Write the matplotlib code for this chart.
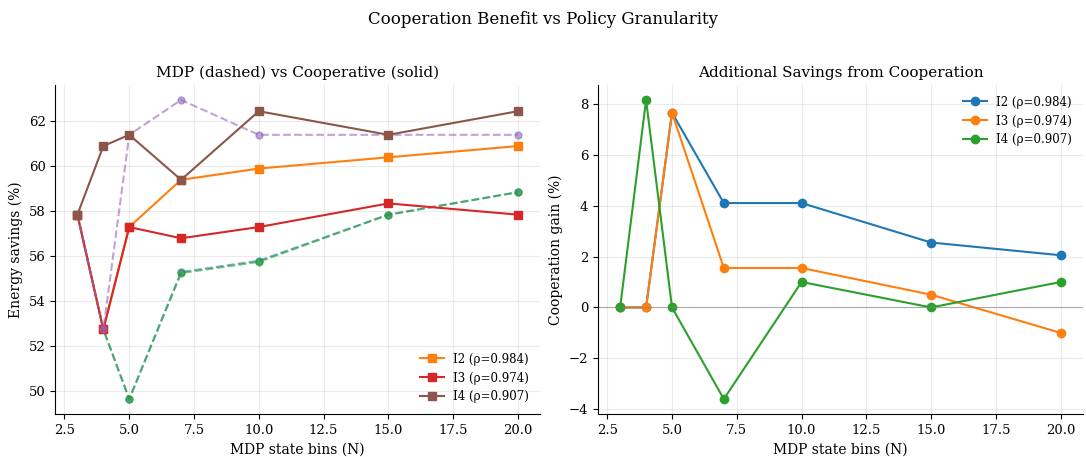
import numpy as np
import matplotlib
matplotlib.use('Agg')
import matplotlib.pyplot as plt

plt.rcParams['font.family'] = 'DejaVu Serif'

# data
bins = np.array([3, 4, 5, 7, 10, 15, 20])
configs = ['I2', 'I3', 'I4']
rhos = [0.984, 0.974, 0.907]

coop = {
    'I2': [57.85, 52.75, 57.3, 59.4, 59.9, 60.4, 60.9],
    'I3': [57.85, 52.75, 57.3, 56.8, 57.3, 58.35, 57.85],
    'I4': [57.85, 60.9, 61.4, 59.4, 62.45, 61.4, 62.45],
}
mdp = {
    'I2': [57.85, 52.75, 49.65, 55.3, 55.8, 57.85, 58.85],
    'I3': [57.85, 52.75, 49.65, 55.25, 55.75, 57.85, 58.85],
    'I4': [57.85, 52.75, 61.4, 62.95, 61.4, 61.4, 61.4],
}
gain = {
    'I2': [0, 0, 7.65, 4.1, 4.1, 2.55, 2.05],
    'I3': [0, 0, 7.65, 1.55, 1.55, 0.5, -1.0],
    'I4': [0, 8.15, 0, -3.6, 1.0, 0, 1.0],
}

fig, (ax1, ax2) = plt.subplots(1, 2, figsize=(10.86, 4.57), dpi=100)

for i, c in enumerate(configs):
    ax1.plot(bins, mdp[c], '--o', color='C%d' % (2 * i), alpha=0.6, markersize=5)
    ax1.plot(bins, coop[c], '-s', color='C%d' % (2 * i + 1), markersize=6,
             label='%s (ρ=%.3f)' % (c, rhos[i]))
ax1.set_xlabel('MDP state bins (N)', fontsize=10)
ax1.set_ylabel('Energy savings (%)', fontsize=10)
ax1.set_title('MDP (dashed) vs Cooperative (solid)', fontsize=11)
ax1.legend(loc='lower right', fontsize=8.5, frameon=False)

for i, c in enumerate(configs):
    ax2.plot(bins, gain[c], '-o', color='C%d' % i, markersize=6,
             label='%s (ρ=%.3f)' % (c, rhos[i]))
ax2.axhline(0, color='gray', linewidth=0.8, alpha=0.6)
ax2.set_xlabel('MDP state bins (N)', fontsize=10)
ax2.set_ylabel('Cooperation gain (%)', fontsize=10)
ax2.set_title('Additional Savings from Cooperation', fontsize=11)
ax2.legend(loc='upper right', fontsize=8.5, frameon=False)

for ax in (ax1, ax2):
    ax.grid(True, alpha=0.25)
    ax.spines['top'].set_visible(False)
    ax.spines['right'].set_visible(False)
    ax.tick_params(labelsize=9.5)

fig.suptitle('Cooperation Benefit vs Policy Granularity', fontsize=12, y=0.975)
fig.subplots_adjust(left=0.051, right=0.997, bottom=0.094, top=0.814, wspace=0.12)
fig.savefig('out.png', dpi=100)
